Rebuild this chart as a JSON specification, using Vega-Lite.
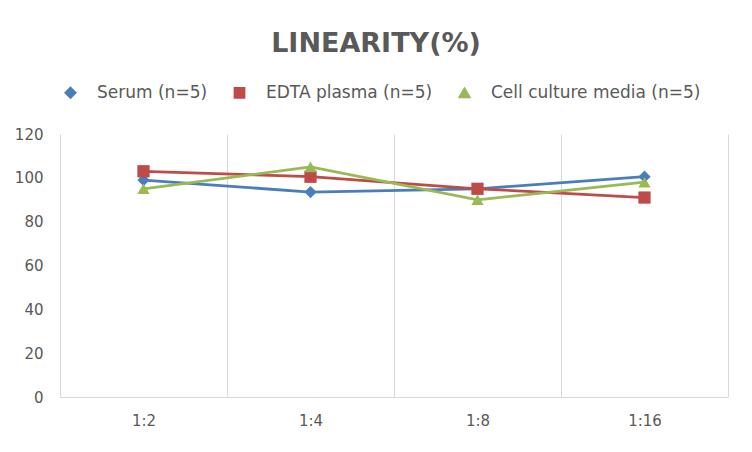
{
  "$schema": "https://vega.github.io/schema/vega-lite/v6.json",
  "autosize": "none",
  "width": 668,
  "height": 263,
  "padding": {"left": 60, "top": 134, "right": 24, "bottom": 55},
  "background": "white",
  "title": {
    "text": "LINEARITY(%)",
    "font": "DejaVu Sans",
    "fontSize": 27,
    "fontWeight": "bold",
    "color": "#595959",
    "anchor": "middle",
    "dx": -18,
    "offset": 26
  },
  "data": {
    "values": [
      {"dilution": "1:2", "series": "Serum (n=5)", "value": 99},
      {"dilution": "1:4", "series": "Serum (n=5)", "value": 93.5},
      {"dilution": "1:8", "series": "Serum (n=5)", "value": 95},
      {"dilution": "1:16", "series": "Serum (n=5)", "value": 100.5},
      {"dilution": "1:2", "series": "EDTA plasma (n=5)", "value": 103},
      {"dilution": "1:4", "series": "EDTA plasma (n=5)", "value": 100.5},
      {"dilution": "1:8", "series": "EDTA plasma (n=5)", "value": 95},
      {"dilution": "1:16", "series": "EDTA plasma (n=5)", "value": 91},
      {"dilution": "1:2", "series": "Cell culture media (n=5)", "value": 95},
      {"dilution": "1:4", "series": "Cell culture media (n=5)", "value": 105},
      {"dilution": "1:8", "series": "Cell culture media (n=5)", "value": 90},
      {"dilution": "1:16", "series": "Cell culture media (n=5)", "value": 98}
    ]
  },
  "encoding": {
    "x": {
      "field": "dilution",
      "type": "ordinal",
      "sort": ["1:2", "1:4", "1:8", "1:16"],
      "scale": {"type": "band", "paddingInner": 0, "paddingOuter": 0},
      "axis": {
        "title": null,
        "grid": true,
        "gridColor": "#d9d9d9",
        "gridWidth": 1,
        "tickBand": "extent",
        "ticks": false,
        "domainColor": "#d9d9d9",
        "labelAngle": 0,
        "labelFont": "DejaVu Sans",
        "labelFontSize": 15,
        "labelColor": "#595959",
        "labelPadding": 16
      }
    },
    "y": {
      "field": "value",
      "type": "quantitative",
      "scale": {"domain": [0, 120], "nice": false},
      "axis": {
        "title": null,
        "values": [0, 20, 40, 60, 80, 100, 120],
        "grid": false,
        "ticks": false,
        "domainColor": "#d9d9d9",
        "labelFont": "DejaVu Sans",
        "labelFontSize": 15,
        "labelColor": "#595959",
        "labelPadding": 17
      }
    },
    "color": {
      "field": "series",
      "type": "nominal",
      "scale": {
        "domain": ["Serum (n=5)", "EDTA plasma (n=5)", "Cell culture media (n=5)"],
        "range": ["#4a7ebb", "#be4b48", "#98b954"]
      },
      "legend": {
        "title": null,
        "orient": "none",
        "direction": "horizontal",
        "legendX": 2,
        "legendY": -50,
        "padding": 0,
        "columnPadding": 21,
        "symbolSize": 81,
        "symbolStrokeWidth": 2.75,
        "labelOffset": 18,
        "labelLimit": 400,
        "labelFont": "DejaVu Sans",
        "labelFontSize": 17,
        "labelColor": "#595959",
        "encode": {
          "symbols": {
            "update": {
              "shape": {"signal": "datum.value === 'Serum (n=5)' ? 'M-4.6,0H4.6M0,-1L1,0L0,1L-1,0Z' : datum.value === 'EDTA plasma (n=5)' ? 'M-4.6,0H4.6M-1,-1H1V1H-1Z' : 'M-4.6,0H4.6M0,-1.1L1.1,0.9H-1.1Z'"},
              "stroke": {"scale": "color", "field": "value"},
              "fill": {"scale": "color", "field": "value"},
              "strokeWidth": {"value": 2.75},
              "strokeOpacity": {"value": 1}
            }
          }
        }
      }
    }
  },
  "layer": [
    {
      "mark": {"type": "line", "strokeWidth": 2.75}
    },
    {
      "mark": {"type": "point", "filled": true, "opacity": 1, "size": 150},
      "encoding": {
        "shape": {
          "field": "series",
          "type": "nominal",
          "scale": {
            "domain": ["Serum (n=5)", "EDTA plasma (n=5)", "Cell culture media (n=5)"],
            "range": ["diamond", "square", "triangle-up"]
          },
          "legend": null
        }
      }
    }
  ],
  "config": {
    "view": {"stroke": null}
  }
}
